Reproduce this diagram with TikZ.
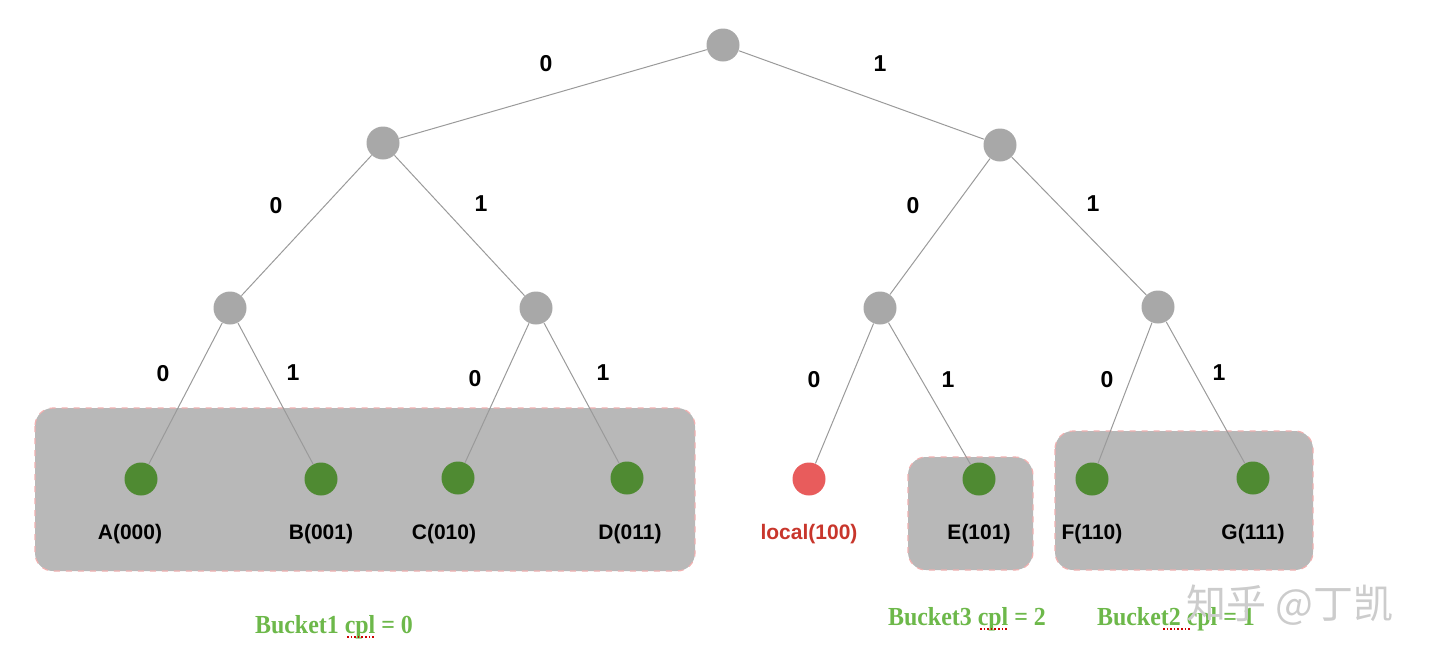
\documentclass[tikz,border=0pt]{standalone}
\usepackage{fontspec}
\setmainfont{Liberation Sans}
\newfontfamily\bucketfont{Liberation Serif}
\newfontfamily\cjk{Noto Sans CJK SC}
\usetikzlibrary{calc}
\definecolor{nodegray}{HTML}{A8A8A8}
\definecolor{leafgreen}{HTML}{4F8A32}
\definecolor{localred}{HTML}{E85C5C}
\definecolor{boxgray}{HTML}{B8B8B8}
\definecolor{boxedge}{HTML}{F0B0B0}
\definecolor{edgegray}{HTML}{9A9A9A}
\definecolor{bucketgreen}{HTML}{6DB84A}
\definecolor{localtext}{HTML}{C8362C}
\tikzset{
  inner/.style={circle,fill=nodegray,minimum size=16.5pt,inner sep=0pt},
  leaf/.style={circle,fill=leafgreen,minimum size=16.5pt,inner sep=0pt},
  localleaf/.style={circle,fill=localred,minimum size=16.5pt,inner sep=0pt},
  edge/.style={draw=edgegray,line width=0.5pt},
  bit/.style={font=\bfseries\fontsize{11.5}{13}\selectfont},
  leaflabel/.style={font=\bfseries\fontsize{10.5}{12}\selectfont},
  bucketbox/.style={fill=boxgray,draw=boxedge,dashed,line width=0.6pt,rounded corners=9pt},
  bucketlabel/.style={text=bucketgreen,font=\bucketfont\bfseries\fontsize{13}{15}\selectfont,xscale=0.92},
  cplmark/.style={draw=red!80!black,densely dotted,line width=0.8pt}
}
\begin{document}
\begin{tikzpicture}[x=0.5pt,y=-0.5pt]
\useasboundingbox (0,0) rectangle (1440,665);
% bucket boxes
\path[bucketbox] (35,408) rectangle (695,571);
\path[bucketbox] (908,457) rectangle (1033,570);
\path[bucketbox] (1055,431) rectangle (1313,570);
% nodes
\node[inner] (root) at (723,45) {};
\node[inner] (n0) at (383,143) {};
\node[inner] (n1) at (1000,145) {};
\node[inner] (n00) at (230,308) {};
\node[inner] (n01) at (536,308) {};
\node[inner] (n10) at (880,308) {};
\node[inner] (n11) at (1158,307) {};
\node[leaf] (A) at (141,479) {};
\node[leaf] (B) at (321,479) {};
\node[leaf] (C) at (458,478) {};
\node[leaf] (D) at (627,478) {};
\node[localleaf] (L) at (809,479) {};
\node[leaf] (E) at (979,479) {};
\node[leaf] (F) at (1092,479) {};
\node[leaf] (G) at (1253,478) {};
% edges
\draw[edge] (root) -- (n0);
\draw[edge] (root) -- (n1);
\draw[edge] (n0) -- (n00);
\draw[edge] (n0) -- (n01);
\draw[edge] (n1) -- (n10);
\draw[edge] (n1) -- (n11);
\draw[edge] (n00) -- (A);
\draw[edge] (n00) -- (B);
\draw[edge] (n01) -- (C);
\draw[edge] (n01) -- (D);
\draw[edge] (n10) -- (L);
\draw[edge] (n10) -- (E);
\draw[edge] (n11) -- (F);
\draw[edge] (n11) -- (G);
% bit labels
\node[bit] (b1) at (546,64) {0};
\node[bit] (b2) at (880,64) {1};
\node[bit] (b3) at (276,206) {0};
\node[bit] (b4) at (481,204) {1};
\node[bit] (b5) at (913,206) {0};
\node[bit] (b6) at (1093,204) {1};
\node[bit] (b7) at (163,374) {0};
\node[bit] (b8) at (293,373) {1};
\node[bit] (b9) at (475,379) {0};
\node[bit] (b10) at (603,373) {1};
\node[bit] (b11) at (814,380) {0};
\node[bit] (b12) at (948,380) {1};
\node[bit] (b13) at (1107,380) {0};
\node[bit] (b14) at (1219,373) {1};
% leaf labels
\node[leaflabel] (lA) at (130,534) {A(000)};
\node[leaflabel] (lB) at (321,534) {B(001)};
\node[leaflabel] (lC) at (444,534) {C(010)};
\node[leaflabel] (lD) at (630,534) {D(011)};
\node[leaflabel,text=localtext] (lL) at (809,534) {local(100)};
\node[leaflabel] (lE) at (979,534) {E(101)};
\node[leaflabel] (lF) at (1092,534) {F(110)};
\node[leaflabel] (lG) at (1253,534) {G(111)};
% bucket labels
\node[bucketlabel] (k1) at (334,627) {Bucket1 cpl = 0};
\node[bucketlabel] (k3) at (967,619) {Bucket3 cpl = 2};
\node[bucketlabel] (k2) at (1176,619) {Bucket2 cpl = 1};
\draw[cplmark] (347,637) -- (375,637);
\draw[cplmark] (980,629) -- (1007,629);
\draw[cplmark] (1163,629) -- (1190,629);
% watermark
\node[text=black!20,font=\cjk\fontsize{20}{23}\selectfont] (wm) at (1290,605) {知乎 @丁凯};
\end{tikzpicture}
\end{document}
